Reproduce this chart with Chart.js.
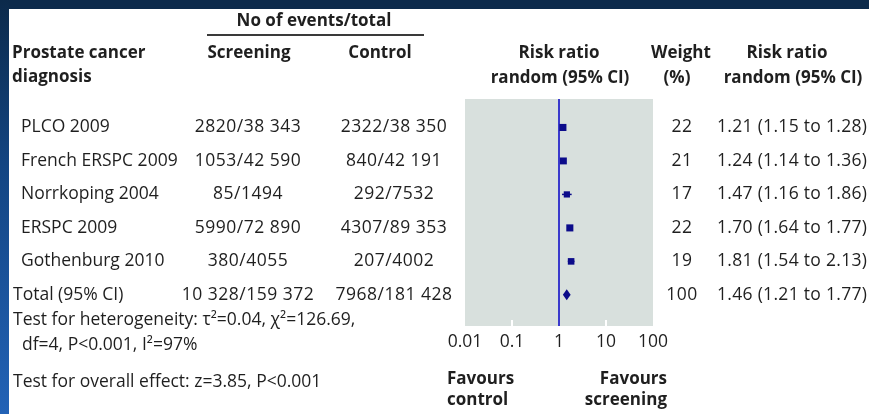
<!DOCTYPE html>
<html>
<head>
<meta charset="utf-8">
<script src="https://cdn.jsdelivr.net/npm/chart.js@4/dist/chart.umd.min.js"></script>
<style>
  html, body { margin: 0; padding: 0; background: #ffffff; overflow: hidden; }
  #wrap { width: 869px; height: 414px; position: relative; }
</style>
</head>
<body>
<div id="wrap"><canvas id="forest" width="869" height="414"></canvas></div>
<script>
// Trials included in the meta-analysis of prostate cancer diagnosis
const studies = ['PLCO 2009', 'French ERSPC 2009', 'Norrkoping 2004', 'ERSPC 2009', 'Gothenburg 2010'];
const screeningEvents = ['2820/38 343', '1053/42 590', '85/1494', '5990/72 890', '380/4055'];
const controlEvents = ['2322/38 350', '840/42 191', '292/7532', '4307/89 353', '207/4002'];
const weights = [22, 21, 17, 22, 19];
const riskRatio = [1.21, 1.24, 1.47, 1.70, 1.81];
const ciLow = [1.15, 1.14, 1.16, 1.64, 1.54];
const ciHigh = [1.28, 1.36, 1.86, 1.77, 2.13];

// Pooled (random effects) estimate
const totalLabel = 'Total (95% CI)';
const totalScreening = '10 328/159 372';
const totalControl = '7968/181 428';
const totalWeight = 100;
const totalRR = 1.46;
const totalLow = 1.21;
const totalHigh = 1.77;

// Log axis tick values
const xTicks = [0.01, 0.1, 1, 10, 100];

const FONT = '"Open Sans", "Noto Sans", sans-serif';
const TEXT = '#1f1f1f';
const MARK = '#0b0b8a';

const fmt = v => v.toFixed(2);
const rrText = (r, l, h) => `${fmt(r)} (${fmt(l)} to ${fmt(h)})`;
const markerRadius = w => 5 * Math.sqrt(w / 22);

function text(ctx, str, x, y, align, bold, spacing) {
  ctx.font = `${bold ? 'bold ' : ''}${bold ? 17 : 17.5}px ${FONT}`;
  ctx.letterSpacing = (spacing || 0) + 'px';
  ctx.textAlign = align;
  ctx.textBaseline = 'middle';
  ctx.fillStyle = TEXT;
  ctx.fillText(str, x, y);
  ctx.letterSpacing = '0px';
}

const forestPlugin = {
  id: 'forest',
  beforeDraw(chart) {
    const { ctx, width, height } = chart;
    ctx.save();
    ctx.fillStyle = '#ffffff';
    ctx.fillRect(0, 0, width, height);
    // slide frame: navy top band and blue left band
    ctx.fillStyle = '#0c2a4b';
    ctx.fillRect(0, 0, width, 9);
    const g = ctx.createLinearGradient(0, 0, 0, height);
    g.addColorStop(0, '#0c2a4b');
    g.addColorStop(0.4, '#134582');
    g.addColorStop(1, '#2262b6');
    ctx.fillStyle = g;
    ctx.fillRect(0, 0, 9, height);
    ctx.restore();
  },
  beforeDatasetsDraw(chart) {
    const { ctx, chartArea: a, scales: { x, y } } = chart;
    ctx.save();
    ctx.fillStyle = '#d8e0dd';
    ctx.fillRect(a.left, a.top, a.right - a.left, a.bottom - a.top);
    // small white ticks inside the plot box
    ctx.strokeStyle = '#ffffff';
    ctx.lineWidth = 2;
    xTicks.forEach(v => {
      const px = x.getPixelForValue(v);
      if (px <= a.left + 2 || px >= a.right - 2 || v === 1) return;
      ctx.beginPath();
      ctx.moveTo(px, a.bottom);
      ctx.lineTo(px, a.bottom - 6);
      ctx.stroke();
    });
    // line of no effect
    const x1 = x.getPixelForValue(1);
    ctx.strokeStyle = '#3a3acc';
    ctx.lineWidth = 2;
    ctx.beginPath();
    ctx.moveTo(x1, a.top);
    ctx.lineTo(x1, a.bottom);
    ctx.stroke();
    // confidence intervals
    ctx.strokeStyle = MARK;
    ctx.lineWidth = 1.5;
    ciLow.forEach((l, i) => {
      const py = y.getPixelForValue(i);
      ctx.beginPath();
      ctx.moveTo(x.getPixelForValue(l), py);
      ctx.lineTo(x.getPixelForValue(ciHigh[i]), py);
      ctx.stroke();
    });
    ctx.restore();
  },
  afterDatasetsDraw(chart) {
    const { ctx, scales: { x, y } } = chart;
    // pooled estimate diamond
    const py = y.getPixelForValue(studies.length);
    ctx.save();
    ctx.fillStyle = MARK;
    ctx.beginPath();
    ctx.moveTo(x.getPixelForValue(totalLow), py);
    ctx.lineTo(x.getPixelForValue(totalRR), py - 5.5);
    ctx.lineTo(x.getPixelForValue(totalHigh), py);
    ctx.lineTo(x.getPixelForValue(totalRR), py + 5.5);
    ctx.closePath();
    ctx.fill();
    ctx.restore();
  },
  afterDraw(chart) {
    const { ctx, scales: { y } } = chart;
    ctx.save();
    // column headers
    text(ctx, 'No of events/total', 314, 21, 'center', true);
    ctx.strokeStyle = '#3a3a3a';
    ctx.lineWidth = 2;
    ctx.beginPath();
    ctx.moveTo(207, 35);
    ctx.lineTo(424, 35);
    ctx.stroke();
    text(ctx, 'Prostate cancer', 12, 53, 'left', true);
    text(ctx, 'diagnosis', 12, 77, 'left', true);
    text(ctx, 'Screening', 249, 53, 'center', true);
    text(ctx, 'Control', 380, 53, 'center', true);
    text(ctx, 'Risk ratio', 559, 53, 'center', true);
    text(ctx, 'random (95% CI)', 560, 78, 'center', true);
    text(ctx, 'Weight', 681, 53, 'center', true);
    text(ctx, '(%)', 677, 78, 'center', true);
    text(ctx, 'Risk ratio', 787, 53, 'center', true);
    text(ctx, 'random (95% CI)', 793, 78, 'center', true);

    // one row per trial
    studies.forEach((s, i) => {
      const py = y.getPixelForValue(i);
      text(ctx, s, 21, py, 'left');
      text(ctx, screeningEvents[i], 248, py, 'center', false, 0.5);
      text(ctx, controlEvents[i], 394, py, 'center', false, 0.5);
      text(ctx, String(weights[i]), 682, py, 'center', false, 0.5);
      text(ctx, rrText(riskRatio[i], ciLow[i], ciHigh[i]), 717, py, 'left', false, 0.3);
    });
    const pt = y.getPixelForValue(studies.length);
    text(ctx, totalLabel, 13, pt, 'left');
    text(ctx, totalScreening, 248, pt, 'center', false, 0.5);
    text(ctx, totalControl, 394, pt, 'center', false, 0.5);
    text(ctx, String(totalWeight), 682, pt, 'center', false, 0.5);
    text(ctx, rrText(totalRR, totalLow, totalHigh), 717, pt, 'left', false, 0.3);

    // test statistics
    text(ctx, 'Test for heterogeneity: \u03C4\u00B2=0.04, \u03C7\u00B2=126.69,', 13, 320, 'left');
    text(ctx, 'df=4, P<0.001, I\u00B2=97%', 22, 345, 'left');
    text(ctx, 'Test for overall effect: z=3.85, P<0.001', 13, 382, 'left');

    // direction labels under the axis
    text(ctx, 'Favours', 447, 379, 'left', true);
    text(ctx, 'control', 447, 400, 'left', true);
    text(ctx, 'Favours', 667, 379, 'right', true);
    text(ctx, 'screening', 667, 400, 'right', true);
    ctx.restore();
  }
};

new Chart(document.getElementById('forest'), {
  type: 'scatter',
  data: {
    datasets: [{
      data: studies.map((s, i) => ({ x: riskRatio[i], y: i })),
      pointStyle: 'rect',
      pointRadius: weights.map(markerRadius),
      pointHoverRadius: weights.map(markerRadius),
      backgroundColor: MARK,
      borderColor: MARK,
      borderWidth: 0
    }]
  },
  options: {
    responsive: false,
    animation: false,
    devicePixelRatio: 1,
    layout: { padding: { left: 465, right: 216, top: 99, bottom: 55 } },
    plugins: { legend: { display: false }, tooltip: { enabled: false } },
    scales: {
      x: {
        type: 'logarithmic',
        min: 0.01,
        max: 100,
        afterBuildTicks: axis => { axis.ticks = xTicks.map(v => ({ value: v })); },
        grid: { display: false, drawTicks: false },
        border: { display: false },
        ticks: {
          autoSkip: false,
          maxRotation: 0,
          padding: 6,
          color: TEXT,
          font: { family: FONT, size: 17.5 },
          callback: v => String(v)
        }
      },
      y: {
        type: 'linear',
        reverse: true,
        min: -0.85,
        max: 5.93,
        display: false
      }
    }
  },
  plugins: [forestPlugin]
});
</script>
</body>
</html>
